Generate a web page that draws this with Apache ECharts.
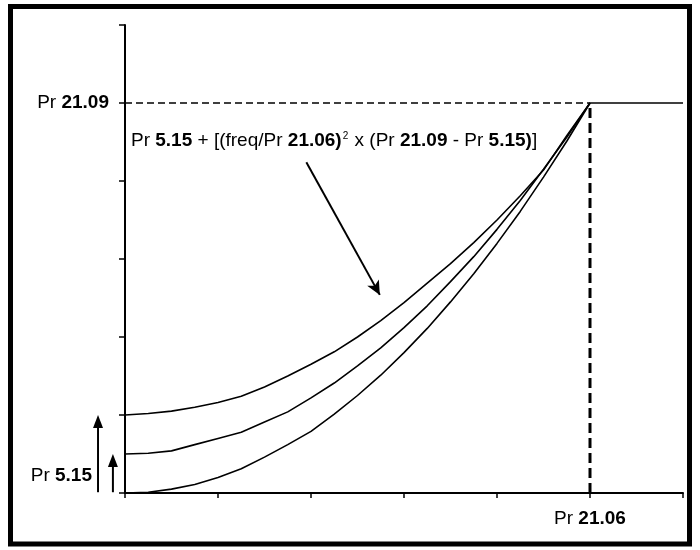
<!DOCTYPE html>
<html><head><meta charset="utf-8">
<script src="https://cdn.jsdelivr.net/npm/echarts@6/dist/echarts.min.js"></script>
<style>html,body{margin:0;padding:0;background:#fff}#c{width:700px;height:550px}</style>
</head><body><div id="c"></div>
<script>
// frequency positions (axis units, Pr 21.06 = 5)
const freqSteps = [0,0.25,0.5,0.75,1,1.25,1.5,1.75,2,2.25,2.5,2.75,3,3.25,3.5,3.75,4,4.25,4.5,4.75,5];
// voltage curves (Pr 21.09 = 5)
const curveHigh = [1.00,1.02,1.05,1.10,1.16,1.24,1.36,1.50,1.65,1.81,2.00,2.21,2.44,2.69,2.94,3.21,3.50,3.81,4.14,4.58,5.00];
const curveMid  = [0.50,0.51,0.54,0.62,0.70,0.78,0.91,1.04,1.22,1.41,1.63,1.86,2.12,2.40,2.71,3.03,3.38,3.75,4.15,4.56,5.00];
const curveLow  = [0.00,0.01,0.05,0.11,0.20,0.31,0.46,0.62,0.79,1.01,1.25,1.51,1.80,2.11,2.45,2.81,3.20,3.61,4.05,4.51,5.00];
const limitX = [5, 6];
const limitY = [5, 5];
const ratedFreq = 5;      // Pr 21.06
const ratedVolt = 5;      // Pr 21.09
const boostHigh = 1.0;    // Pr 5.15 (high)
const boostMid = 0.5;     // Pr 5.15 (mid)
const boostArrowX = [-0.29, -0.13];
const xLabelText = ['Pr ', '21.06'];
const yLabelText = ['Pr ', '21.09'];

const FONT = 'Liberation Sans, Arial, sans-serif';
const FS = 19;
const rich = {
  n: {fontFamily: FONT, fontSize: FS, color: '#000'},
  b: {fontFamily: FONT, fontSize: FS, fontWeight: 'bold', color: '#000'},
  sup: {fontFamily: FONT, fontSize: 10, color: '#000', verticalAlign: 'top', padding: [0, 1, 10, 1]}
};
const pairs = (ys) => freqSteps.map((x, i) => [x, ys[i]]);
const curveStyle = {color: '#000', width: 1.6};

const chart = echarts.init(document.getElementById('c'), null, {renderer: 'canvas'});
chart.setOption({
  animation: false,
  backgroundColor: '#fff',
  grid: {left: 125, right: 17, top: 25, bottom: 57, containLabel: false},
  xAxis: {
    type: 'value', min: 0, max: 6, interval: 1,
    axisLine: {show: true, lineStyle: {color: '#000', width: 2}},
    axisTick: {show: true, length: 5, lineStyle: {color: '#000', width: 1.5}},
    splitLine: {show: false},
    axisLabel: {margin: 16, rich: rich,
      formatter: v => v === ratedFreq ? '{n|' + xLabelText[0] + '}{b|' + xLabelText[1] + '}' : ''}
  },
  yAxis: {
    type: 'value', min: 0, max: 6, interval: 1,
    axisLine: {show: true, lineStyle: {color: '#000', width: 2}},
    axisTick: {show: true, length: 6, lineStyle: {color: '#000', width: 1.5}},
    splitLine: {show: false},
    axisLabel: {margin: 16, rich: rich,
      formatter: v => v === ratedVolt ? '{n|' + yLabelText[0] + '}{b|' + yLabelText[1] + '}' : ''}
  },
  graphic: [
    {id: 'frame', type: 'rect', silent: true, shape: {x: 10.5, y: 6.5, width: 679, height: 537.5},
     style: {fill: 'none', stroke: '#000', lineWidth: 5}},
    {id: 't515', type: 'text', silent: true, x: 92, y: 476,
     style: {text: '{n|Pr }{b|5.15}', rich: rich, align: 'right', verticalAlign: 'middle'}},
    {id: 'formula', type: 'text', silent: true, x: 131, y: 141,
     style: {text: '{n|Pr }{b|5.15}{n| + [(freq/Pr }{b|21.06)}{sup|2}{n| x (Pr }{b|21.09}{n| - Pr }{b|5.15)}{n|]}',
       rich: rich, align: 'left', verticalAlign: 'middle'}}
  ],
  series: [
    {type: 'line', name: 'ref', data: [[0, ratedVolt], [ratedFreq, ratedVolt]], symbol: 'none', silent: true,
     lineStyle: {color: '#000', width: 1.5, type: [7, 4]}},
    {type: 'line', name: 'refv', data: [[ratedFreq, 0], [ratedFreq, ratedVolt - 0.04]], symbol: 'none', silent: true,
     lineStyle: {color: '#000', width: 3, type: [10, 5]}},
    {type: 'line', name: 'high', data: pairs(curveHigh), symbol: 'none', silent: true, lineStyle: curveStyle},
    {type: 'line', name: 'mid', data: pairs(curveMid), symbol: 'none', silent: true, lineStyle: curveStyle},
    {type: 'line', name: 'low', data: pairs(curveLow), symbol: 'none', silent: true, lineStyle: curveStyle},
    {type: 'line', name: 'limit', data: limitX.map((x, i) => [x, limitY[i]]), symbol: 'none', silent: true,
     lineStyle: curveStyle,
     markLine: {
       silent: true, symbol: ['none', 'arrow'], symbolSize: [10, 14], label: {show: false},
       lineStyle: {color: '#000', width: 2, type: 'solid'},
       emphasis: {disabled: true},
       data: [
         [{coord: [1.95, 4.24]}, {coord: [2.74, 2.54]}]
       ]
     }}
  ]
});

// boost arrows left of the axis, positioned through the chart's own scales
const boosts = [boostHigh, boostMid];
const extra = [];
boosts.forEach((b, i) => {
  const p0 = chart.convertToPixel({gridIndex: 0}, [boostArrowX[i], 0.01]);
  const p1 = chart.convertToPixel({gridIndex: 0}, [boostArrowX[i], b]);
  extra.push({id: 'bl' + i, type: 'line', silent: true,
    shape: {x1: p0[0], y1: p0[1], x2: p1[0], y2: p1[1] + 10},
    style: {stroke: '#000', lineWidth: 2}});
  extra.push({id: 'bh' + i, type: 'polygon', silent: true,
    shape: {points: [[p1[0], p1[1]], [p1[0] - 5, p1[1] + 13], [p1[0] + 5, p1[1] + 13]]},
    style: {fill: '#000'}});
});
chart.setOption({graphic: extra});
</script></body></html>
